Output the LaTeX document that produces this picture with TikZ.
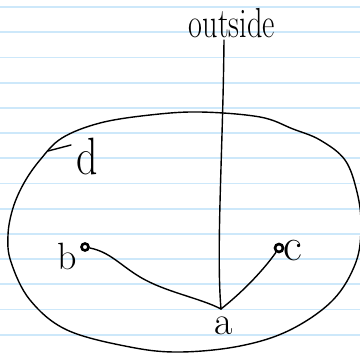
\documentclass[tikz,border=0pt]{standalone}
\usepackage{fontspec}
\setmainfont{Latin Modern Roman}
\definecolor{ruled}{RGB}{205,232,250}
\tikzset{
  ink/.style={line width=1.4pt, line cap=round, line join=round, black},
  rule/.style={line width=1.8pt, ruled},
  hand/.style={inner sep=0pt, text=black},
  marker/.style={circle, draw, line width=2.6pt, minimum size=7pt, inner sep=0pt},
}
\begin{document}
\begin{tikzpicture}[x=1pt, y=-1pt]
\fill[white] (0,0) rectangle (360,354);
\useasboundingbox (0,0) rectangle (360,354);
% ruled paper
\foreach \k in {0,...,13} {
  \draw[rule] (0,{7+25.2*\k}) -- (360,{7+25.2*\k});
}
% ellipse (region)
\draw[ink] plot[smooth cycle, tension=0.6] coordinates {
  (100,123) (150,115) (200,112) (260,117) (293,129) (320,140) (345,160)
  (357,192) (361,225) (356,262) (333,300) (290,330) (240,346) (180,352)
  (130,347) (67,330) (30,300) (11,262) (8,235) (13,208) (24,183) (40,160) (62,138)};
\coordinate (t1) at (48,151);
\coordinate (t2) at (71,145);
\draw[ink] (t1) -- (t2);
% nodes
\node[hand, font=\fontsize{28}{30}\selectfont] (out) at (232,23) {\scalebox{1.08}[1.5]{outside}};
\coordinate (outb) at (224,40);
\coordinate (a) at (221,309);
\node[hand, font=\fontsize{40}{40}\selectfont] (alab) at (224,326) {a};
\node[marker] (b) at (85,247) {};
\node[hand, font=\fontsize{38}{40}\selectfont] (blab) at (67,256) {b};
\node[marker, minimum size=8pt] (c) at (279,248) {};
\node[hand, font=\fontsize{46}{46}\selectfont] (clab) at (293,251) {c};
\node[hand, font=\fontsize{42}{44}\selectfont] (dlab) at (87,156) {\scalebox{1}[1.25]{d}};
% connectors
\draw[ink] (outb) .. controls (223,150) and (216,250) .. (a);
\draw[ink] (b) .. controls (110,252) and (120,265) .. (140,277)
  .. controls (165,292) and (200,298) .. (a);
\draw[ink] (c) .. controls (265,268) and (245,290) .. (a);
\end{tikzpicture}
\end{document}
